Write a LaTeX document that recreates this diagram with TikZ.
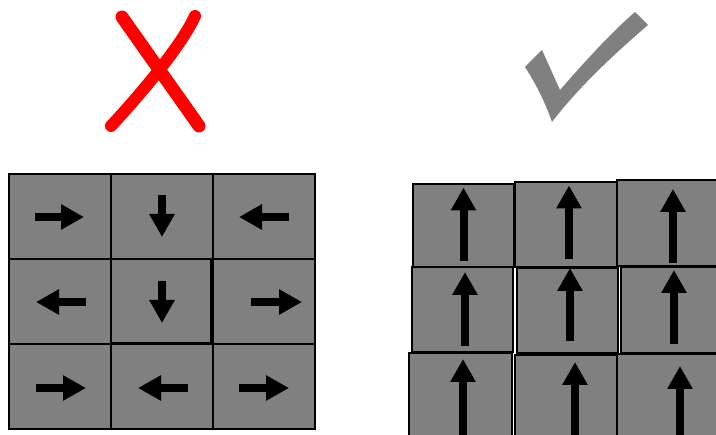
\documentclass[tikz,border=0pt]{standalone}
\usepackage{tikz}
\usetikzlibrary{arrows.meta, calc}
\definecolor{cellgray}{HTML}{808080}
\tikzset{
x=1pt, y=-1pt, % pixel-like units, y grows downwards
cell/.style={draw=black, line width=1.5pt, fill=cellgray, minimum width=102pt, minimum height=85pt, inner sep=0pt}, % one square of the grid
spin/.style={line width=8pt, -{Triangle[length=23pt,width=24pt]}}, % the thick black arrows
cross/.style={red, line width=13pt, line cap=round}, % the red X
}

\begin{document}
\begin{tikzpicture}
    \clip (0,0) rectangle (716,435);
    % wrong: mixed directions
    \draw[cross] (122,17) -- (199,126);
    \draw[cross, line width=12pt] (195,16) .. controls (182,45) and (140,95) .. (111,126);
    \node[cell] (l11) at (60,216.5) {};
    \node[cell] (l12) at (162,216.5) {};
    \node[cell] (l13) at (264,216.5) {};
    \node[cell] (l21) at (60,301.5) {};
    \node[cell, minimum width=100pt, minimum height=84pt] (l22) at (161,301) {};
    \node[cell] (l23) at (264,301.5) {};
    \node[cell] (l31) at (60,386.5) {};
    \node[cell] (l32) at (162,386.5) {};
    \node[cell] (l33) at (264,386.5) {};
    \draw[spin] ($(l11)+(-25,0.5)$) -- ($(l11)+(24,0.5)$);
    \draw[spin] ($(l12)+(0,-21.5)$) -- ($(l12)+(0,20.5)$);
    \draw[spin] ($(l13)+(25,0.5)$) -- ($(l13)+(-25,0.5)$);
    \draw[spin] ($(l21)+(26,0.5)$) -- ($(l21)+(-24,0.5)$);
    \draw[spin] ($(l22)+(1,-20)$) -- ($(l22)+(1,22)$);
    \draw[spin] ($(l23)+(-13,0.5)$) -- ($(l23)+(38,0.5)$);
    \draw[spin] ($(l31)+(-24,1.5)$) -- ($(l31)+(26,1.5)$);
    \draw[spin] ($(l32)+(26,1.5)$) -- ($(l32)+(-24,1.5)$);
    \draw[spin] ($(l33)+(-25,1.5)$) -- ($(l33)+(25,1.5)$);
    % right: all aligned
    \fill[cellgray] (525,67) -- (542,50) -- (560,90)
        .. controls (588,58) and (612,32) .. (635,12) -- (648,25)
        .. controls (612,56) and (578,88) .. (552,122)
        .. controls (545,102) and (536,84) .. cycle;
    \node[cell, minimum width=101pt, minimum height=83pt] (r11) at (463.5,225.5) {};
    \node[cell] (r12) at (566,224.5) {};
    \node[cell, minimum height=86pt] (r13) at (668,223) {};
    \node[cell, minimum width=101pt] (r21) at (462.5,309.5) {};
    \node[cell, minimum width=101pt] (r22) at (567.5,310.5) {};
    \node[cell, minimum width=101pt, minimum height=86pt] (r23) at (671.5,310) {};
    \node[cell, minimum width=103pt, minimum height=87pt] (r31) at (460.5,396.5) {};
    \node[cell] (r32) at (566,397.5) {};
    \node[cell, minimum height=86pt] (r33) at (668,397) {};
    \draw[spin] ($(r11)+(0,36)$) -- ($(r11)+(0,-38)$);
    \draw[spin] ($(r12)+(3,35)$) -- ($(r12)+(3,-39)$);
    \draw[spin] ($(r13)+(5,40)$) -- ($(r13)+(5,-34)$);
    \draw[spin] ($(r21)+(2.5,36.5)$) -- ($(r21)+(2.5,-37.5)$);
    \draw[spin] ($(r22)+(2.5,30.5)$) -- ($(r22)+(2.5,-42.5)$);
    \draw[spin] ($(r23)+(2.5,34)$) -- ($(r23)+(2.5,-40)$);
    \draw[spin] ($(r31)+(2.5,44)$) -- ($(r31)+(2.5,-37.5)$);
    \draw[spin] ($(r32)+(9,43)$) -- ($(r32)+(9,-35.5)$);
    \draw[spin] ($(r33)+(12,43)$) -- ($(r33)+(12,-31)$);
  \end{tikzpicture}
\end{document}
